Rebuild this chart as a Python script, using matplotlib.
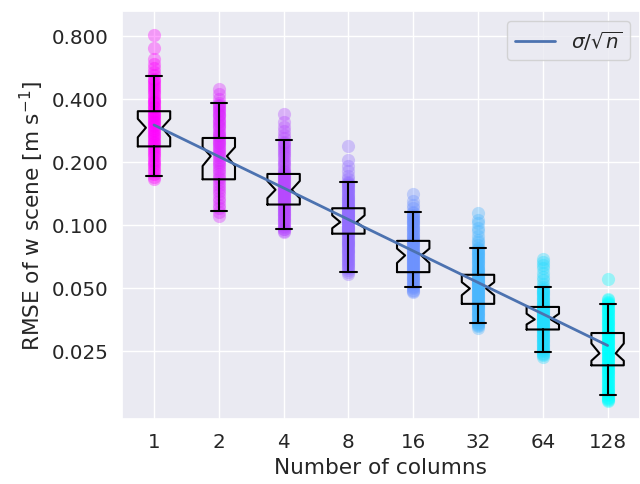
import numpy as np
import matplotlib
matplotlib.use("Agg")
import matplotlib.pyplot as plt
import seaborn as sns
from matplotlib import cm
from matplotlib.ticker import FixedLocator, FormatStrFormatter, NullLocator

sns.set_theme(style="darkgrid", font_scale=1.3)

# x categories (number of columns)
ncols = [1, 2, 4, 8, 16, 32, 64, 128]

# RMSE samples per column count
rmse_1 = [0.81, 0.70, 0.62, 0.59, 0.56, 0.54,
          0.52, 0.50, 0.49, 0.48, 0.47, 0.46, 0.45, 0.44, 0.43, 0.42, 0.41, 0.40, 0.39,
          0.385, 0.38, 0.37, 0.365, 0.36,
          0.35, 0.345, 0.34, 0.335, 0.33, 0.325, 0.32, 0.315, 0.31, 0.305, 0.30, 0.295,
          0.29, 0.285, 0.28, 0.275, 0.27, 0.265, 0.26, 0.255, 0.25, 0.245, 0.24,
          0.235, 0.23, 0.225, 0.22, 0.215, 0.21, 0.205, 0.20, 0.195, 0.19, 0.185, 0.18,
          0.175, 0.17, 0.165]
rmse_2 = [0.447, 0.42, 0.40,
          0.38, 0.375, 0.37, 0.36, 0.355, 0.35, 0.34, 0.335, 0.33, 0.32, 0.315, 0.31,
          0.30, 0.295, 0.29, 0.28, 0.275, 0.27, 0.265,
          0.26, 0.255, 0.25, 0.245, 0.24, 0.235, 0.23, 0.225, 0.22, 0.215, 0.21, 0.205,
          0.20, 0.195, 0.19, 0.185, 0.18, 0.175, 0.17, 0.165,
          0.16, 0.155, 0.15, 0.145, 0.14, 0.135, 0.13, 0.125, 0.12, 0.115, 0.11]
rmse_4 = [0.339, 0.31, 0.293, 0.28, 0.27, 0.26,
          0.25, 0.245, 0.24, 0.235, 0.23, 0.225, 0.22, 0.215, 0.21, 0.205, 0.20, 0.195,
          0.19, 0.185, 0.18, 0.178,
          0.175, 0.173, 0.171, 0.169, 0.167, 0.165, 0.163, 0.161, 0.16, 0.158, 0.156,
          0.154, 0.152, 0.15, 0.148, 0.146, 0.145, 0.143, 0.142, 0.14, 0.139, 0.137,
          0.136, 0.134, 0.133, 0.131, 0.13, 0.128, 0.127, 0.125,
          0.123, 0.122, 0.12, 0.119, 0.117, 0.116, 0.114, 0.113, 0.111, 0.11, 0.108,
          0.107, 0.105, 0.104, 0.102, 0.101, 0.099, 0.098, 0.096, 0.095, 0.093, 0.092]
rmse_8 = [0.237, 0.203, 0.192, 0.181, 0.172, 0.166,
          0.161, 0.159, 0.157, 0.155, 0.153, 0.151, 0.149, 0.147, 0.145, 0.143, 0.141,
          0.139, 0.137, 0.135, 0.134, 0.132, 0.131, 0.129, 0.128, 0.126, 0.125, 0.123,
          0.122, 0.121,
          0.12, 0.119, 0.118, 0.117, 0.116, 0.115, 0.114, 0.113, 0.112, 0.111, 0.11,
          0.109, 0.108, 0.107, 0.106, 0.105, 0.104, 0.103, 0.102, 0.101, 0.1, 0.099,
          0.098, 0.097, 0.096, 0.095, 0.094, 0.093, 0.092, 0.091,
          0.09, 0.089, 0.088, 0.087, 0.086, 0.085, 0.084, 0.083, 0.082, 0.081, 0.08,
          0.079, 0.078, 0.077, 0.076, 0.075, 0.074, 0.073, 0.072, 0.071, 0.07, 0.069,
          0.068, 0.067, 0.066, 0.065, 0.064, 0.063, 0.062, 0.061, 0.0598, 0.0585]
rmse_16 = [0.141, 0.13, 0.125, 0.12,
           0.115, 0.1135, 0.112, 0.1105, 0.109, 0.1075, 0.106, 0.1045, 0.103, 0.1015,
           0.1, 0.0985, 0.097, 0.0955, 0.094, 0.0925, 0.091, 0.0895, 0.088, 0.087, 0.086,
           0.085,
           0.0838, 0.083, 0.082, 0.081, 0.08, 0.079, 0.078, 0.077, 0.076, 0.075, 0.074,
           0.073, 0.0725, 0.0718, 0.071, 0.0702, 0.0695, 0.0688, 0.068, 0.0672, 0.0665,
           0.0658, 0.065, 0.0642, 0.0635, 0.0628, 0.062, 0.0612, 0.0605, 0.06, 0.0594,
           0.0587, 0.058, 0.0572, 0.0565, 0.0558, 0.055, 0.0542, 0.0535, 0.0528, 0.052,
           0.0512, 0.0505, 0.0498, 0.049, 0.0485, 0.048]
rmse_32 = [0.114, 0.106, 0.102, 0.097, 0.093, 0.0887, 0.085, 0.0827, 0.080,
           0.0775, 0.0765, 0.0755, 0.0745, 0.0735, 0.0725, 0.0715, 0.0705, 0.0695,
           0.0685, 0.0675, 0.0665, 0.0655, 0.0645, 0.0635, 0.0625, 0.0615, 0.0607,
           0.06, 0.0592, 0.0585,
           0.0577, 0.0571, 0.0565, 0.0559, 0.0553, 0.0547, 0.0541, 0.0535, 0.053,
           0.0524, 0.0519, 0.0513, 0.0508, 0.0502, 0.0497, 0.0491, 0.0486, 0.0481,
           0.0476, 0.0471, 0.0466, 0.0461, 0.0456, 0.0451, 0.0446, 0.0441, 0.0437,
           0.0432, 0.0428, 0.0423, 0.0419,
           0.0414, 0.041, 0.0405, 0.04, 0.0395, 0.039, 0.0385, 0.038, 0.0375, 0.037,
           0.0365, 0.036, 0.0355, 0.035, 0.0345, 0.034, 0.0336, 0.0332, 0.0327, 0.0322]
rmse_64 = [0.0687, 0.0665, 0.0642, 0.062, 0.059, 0.0565, 0.0546, 0.052,
           0.0503, 0.0496, 0.049, 0.0484, 0.0478, 0.0472, 0.0466, 0.046, 0.0454, 0.0448,
           0.0442, 0.0436, 0.043, 0.0425, 0.042, 0.0415, 0.041,
           0.0405, 0.0401, 0.0398, 0.0394, 0.0391, 0.0387, 0.0384, 0.038, 0.0377,
           0.0373, 0.037, 0.0366, 0.0363, 0.0359, 0.0356, 0.0352, 0.0349, 0.0345,
           0.0342, 0.0339, 0.0336, 0.0333, 0.033, 0.0327, 0.0324, 0.0321, 0.0318,
           0.0314, 0.031, 0.0306, 0.0302, 0.0298, 0.0294, 0.029, 0.0286, 0.0282, 0.0278,
           0.0274, 0.027, 0.0266, 0.0263, 0.0259, 0.0256, 0.0252, 0.0249, 0.0245, 0.0242,
           0.0238, 0.0234]
rmse_128 = [0.0552,
            0.0442, 0.0436, 0.043, 0.0424, 0.0419, 0.0412, 0.0405, 0.0398, 0.0392,
            0.0386, 0.038, 0.0374, 0.0368, 0.0362, 0.0356, 0.035, 0.0345, 0.034, 0.0334,
            0.0329, 0.0324, 0.0319, 0.0314, 0.0309,
            0.0304, 0.03, 0.0297, 0.0293, 0.029, 0.0286, 0.0283, 0.0279, 0.0276, 0.0272,
            0.0269, 0.0265, 0.0262, 0.0258, 0.0255, 0.0252, 0.0249, 0.0246, 0.0243,
            0.024, 0.0237, 0.0234, 0.0231, 0.0228, 0.0225, 0.0222, 0.0219, 0.0216, 0.0213,
            0.021, 0.0207, 0.0204, 0.0201, 0.0198, 0.0195, 0.0192, 0.0189, 0.0186,
            0.0183, 0.018, 0.0177, 0.0174, 0.0171, 0.0168, 0.0166, 0.0163, 0.0161,
            0.0158, 0.0156, 0.0153, 0.0151, 0.0149, 0.0147, 0.0145, 0.0144]
samples = [rmse_1, rmse_2, rmse_4, rmse_8, rmse_16, rmse_32, rmse_64, rmse_128]

# box statistics
whislo = [0.172, 0.117, 0.0956, 0.0598, 0.0503, 0.0341, 0.0246, 0.0154]
q1 = [0.237, 0.165, 0.125, 0.0907, 0.0594, 0.0419, 0.0316, 0.0213]
cilo = [0.262, 0.191, 0.134, 0.0963, 0.0657, 0.0461, 0.0334, 0.0224]
med = [0.291, 0.213, 0.147, 0.103, 0.0714, 0.0496, 0.0353, 0.0243]
cihi = [0.321, 0.235, 0.162, 0.111, 0.077, 0.0532, 0.0376, 0.0271]
q3 = [0.349, 0.260, 0.175, 0.120, 0.0838, 0.0577, 0.0405, 0.0304]
whishi = [0.514, 0.382, 0.253, 0.161, 0.115, 0.0775, 0.0503, 0.0419]

# sigma / sqrt(n) reference line
sigma_n = [0.300, 0.212, 0.150, 0.106, 0.075, 0.053, 0.0375, 0.0265]

fig, ax = plt.subplots(figsize=(6.4, 4.85), dpi=100)
fig.subplots_adjust(left=0.19, right=1.0, top=0.975, bottom=0.134)

pos = np.arange(1, len(ncols) + 1)
colors = cm.cool(np.linspace(1, 0, len(ncols)))

for p, vals, c in zip(pos, samples, colors):
    ax.scatter([p] * len(vals), vals, s=90, color=c, alpha=0.35, lw=0, zorder=2)

stats = []
for i in range(len(ncols)):
    stats.append(dict(whislo=whislo[i], q1=q1[i], cilo=cilo[i], med=med[i],
                      cihi=cihi[i], q3=q3[i], whishi=whishi[i], fliers=[]))
ax.bxp(stats, positions=pos, widths=0.5, shownotches=True, showfliers=False,
       boxprops=dict(color='black', lw=1.5),
       whiskerprops=dict(color='black', lw=1.5),
       capprops=dict(color='black', lw=1.5),
       medianprops=dict(lw=0),
       manage_ticks=False, zorder=3)

ax.plot(pos, sigma_n, color='#4c72b0', lw=2, label=r'$\sigma/\sqrt{n}$', zorder=4)

ax.set_yscale('log')
ax.set_ylim(0.0118, 1.05)
ax.set_xlim(0.5, 8.5)
ax.yaxis.set_major_locator(FixedLocator([0.025, 0.05, 0.1, 0.2, 0.4, 0.8]))
ax.yaxis.set_major_formatter(FormatStrFormatter('%.3f'))
ax.yaxis.set_minor_locator(NullLocator())
ax.set_xticks(pos)
ax.set_xticklabels([str(n) for n in ncols])
ax.set_xlabel('Number of columns')
ax.set_ylabel('RMSE of w scene [m s$^{\\mathregular{-1}}$]')
ax.legend(loc='upper right')

fig.savefig('out.png', dpi=100)
